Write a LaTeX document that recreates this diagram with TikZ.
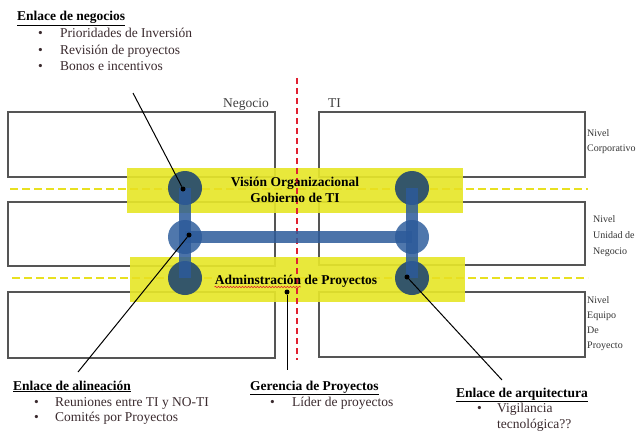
\documentclass[tikz,border=0pt]{standalone}
\usepackage{fontspec}
\setmainfont{Liberation Serif}
\usetikzlibrary{decorations.pathmorphing}
\definecolor{boxc}{HTML}{555555}
\definecolor{bandc}{HTML}{E6E62A}
\definecolor{ydashc}{HTML}{E8E020}
\definecolor{redc}{HTML}{E02030}
\definecolor{darkc}{HTML}{34566A}
\definecolor{midc}{HTML}{4670A8}
\definecolor{barc}{HTML}{2C5A9A}
\definecolor{bultc}{HTML}{3A2A2E}
\begin{document}
\begin{tikzpicture}[x=1pt,y=-1pt,
  lvlbox/.style={draw=boxc, line width=1.1pt},
  band/.style={fill=bandc, fill opacity=0.92},
  ydash/.style={draw=ydashc, line width=2.6pt, dash pattern=on 8pt off 4pt},
  rdash/.style={draw=redc, line width=1.6pt, dash pattern=on 6pt off 4pt},
  endcirc/.style={circle, fill=darkc, minimum size=34pt, inner sep=0pt},
  midcirc/.style={circle, fill=midc, fill opacity=0.95, minimum size=34pt, inner sep=0pt},
  bar/.style={draw=barc, line width=12pt, opacity=0.85},
  dotn/.style={circle, fill=black, minimum size=5pt, inner sep=0pt},
  ptr/.style={draw=black, line width=1pt},
  txt/.style={inner sep=0pt, anchor=base west, font=\fontsize{13.5}{16}\selectfont},
  head/.style={txt, font=\fontsize{13.5}{16}\selectfont\bfseries},
  bul/.style={txt, text=bultc},
  lvl/.style={inner sep=0pt, anchor=base west, font=\fontsize{10}{12}\selectfont, text=black!80},
  ctr/.style={inner sep=0pt, align=center, font=\fontsize{13.5}{16}\selectfont\bfseries}
]
\useasboundingbox (0,0) rectangle (644,433);
% level boxes
\draw[lvlbox] (8,112) rectangle (275,177);
\draw[lvlbox] (8,202) rectangle (275,266);
\draw[lvlbox] (8,292) rectangle (275,358);
\draw[lvlbox] (319,112) rectangle (585,177);
\draw[lvlbox] (319,202) rectangle (585,265);
\draw[lvlbox] (319,292) rectangle (585,357);
% yellow bands
\fill[band] (127,168) rectangle (463,213);
\fill[band] (130,257) rectangle (465,302);
% dashed separators
\draw[ydash] (10,189) -- (588,189);
\draw[ydash] (12,278) -- (588,278);
\draw[rdash] (297,78) -- (297,360);
% labels Negocio / TI
\node[txt, text=black!75] (neg) at (223,107) {Negocio};
\node[txt, text=black!75] (ti) at (328,107) {TI};
% circles
\node[endcirc] (c1) at (185,188) {};
\node[midcirc] (c2) at (185,237) {};
\node[endcirc] (c3) at (185,278) {};
\node[endcirc] (d1) at (412,188) {};
\node[midcirc] (d2) at (412,237) {};
\node[endcirc] (d3) at (412,278) {};
\draw[bar] (c1.center) -- (c3.center);
\draw[bar] (d1.center) -- (d3.center);
\draw[bar] (c2.center) -- (d2.center);
% band texts
\node[ctr] (vis) at (295,190) {Visión Organizacional\\Gobierno de TI};
\node[head, anchor=base] (adm) at (296,284) {Adminstración de Proyectos};
\draw[redc, line width=0.6pt, decorate, decoration={snake, amplitude=0.8pt, segment length=3pt}]
  ([yshift=-3pt]adm.base west) -- ++(86,0);
% level names
\node[lvl] (n1a) at (587,136) {Nivel};
\node[lvl] (n1b) at (587,151) {Corporativo};
\node[lvl] (n2a) at (593,222) {Nivel};
\node[lvl] (n2b) at (593,238) {Unidad de};
\node[lvl] (n2c) at (593,254) {Negocio};
\node[lvl] (n3a) at (587,303) {Nivel};
\node[lvl] (n3b) at (587,318) {Equipo};
\node[lvl] (n3c) at (587,333) {De};
\node[lvl] (n3d) at (587,348) {Proyecto};
% Enlace de negocios
\node[head] (h1) at (17,21) {\underline{Enlace de negocios}};
\node[bul] at (38,38) {•}; \node[bul] (b11) at (60,38) {Prioridades de Inversión};
\node[bul] at (38,55) {•}; \node[bul] (b12) at (60,55) {Revisión de proyectos};
\node[bul] at (38,71) {•}; \node[bul] (b13) at (60,71) {Bonos e incentivos};
% Enlace de alineacion
\node[head] (h2) at (13,390) {\underline{Enlace de alineación}};
\node[bul] at (34,406) {•}; \node[bul] (b21) at (55,406) {Reuniones entre TI y NO-TI};
\node[bul] at (34,421) {•}; \node[bul] (b22) at (55,421) {Comités por Proyectos};
% Gerencia
\node[head] (h3) at (250,390) {\underline{Gerencia de Proyectos}};
\node[bul] at (270,406) {•}; \node[bul] (b31) at (292,406) {Líder de proyectos};
% Arquitectura
\node[head] (h4) at (456,397) {\underline{Enlace de arquitectura}};
\node[bul] at (477,412) {•}; \node[bul] (b41) at (497,412) {Vigilancia};
\node[bul] (b42) at (497,428) {tecnológica??};
% pointers
\node[dotn] (p1) at (183,189) {};
\node[dotn] (p2) at (189,235) {};
\node[dotn] (p3) at (287,292) {};
\node[dotn] (p4) at (407,277) {};
\coordinate (e1) at (133,93);
\coordinate (e2) at (78,372);
\coordinate (e3) at (287,370);
\coordinate (e4) at (502,380);
\draw[ptr] (e1) -- (p1);
\draw[ptr] (p2) -- (e2);
\draw[ptr] (p3) -- (e3);
\draw[ptr] (p4) -- (e4);
\end{tikzpicture}
\end{document}
